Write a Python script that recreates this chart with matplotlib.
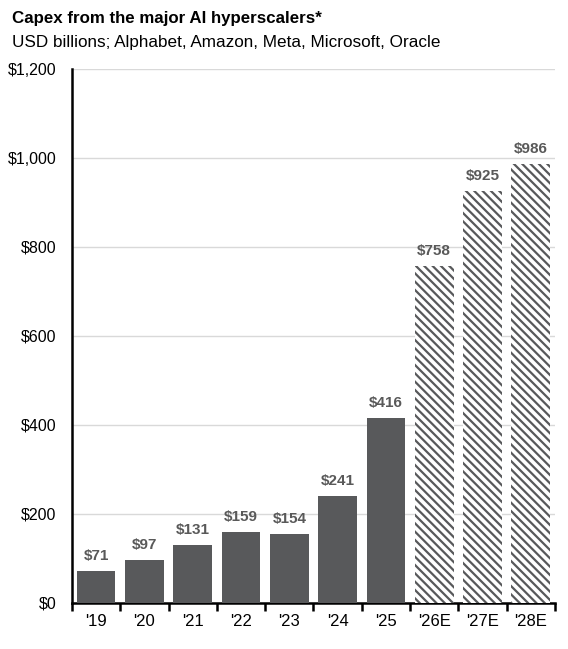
import matplotlib.pyplot as plt
import numpy as np

plt.rcParams['font.family'] = ['Liberation Sans', 'DejaVu Sans']
plt.rcParams['hatch.linewidth'] = 1.6

years = ["'19", "'20", "'21", "'22", "'23", "'24", "'25", "'26E", "'27E", "'28E"]
capex = [71, 97, 131, 159, 154, 241, 416, 758, 925, 986]
estimate = [False] * 7 + [True] * 3

bar_color = '#58595b'
label_color = '#595959'

fig = plt.figure(figsize=(5.68, 6.49), dpi=100)
ax = fig.add_axes([0.1268, 0.0709, 0.8502, 0.8228])

x = np.arange(len(years))
for i in range(len(years)):
    if estimate[i]:
        plt.rcParams['hatch.color'] = bar_color
        ax.bar(x[i], capex[i], width=0.8, color='white', hatch='\\\\\\\\',
               edgecolor=bar_color, linewidth=0, zorder=3)
    else:
        ax.bar(x[i], capex[i], width=0.8, color=bar_color, linewidth=0, zorder=3)
    ax.text(x[i], capex[i] + 18, '${0}'.format(capex[i]), ha='center', va='bottom',
            fontsize=11, fontweight='bold', color=label_color)

ax.set_xlim(-0.5, len(years) - 0.5)
ax.set_ylim(0, 1200)
ax.set_yticks(range(0, 1201, 200))
ax.set_yticklabels(['$0', '$200', '$400', '$600', '$800', '$1,000', '$1,200'])
ax.set_xticks(x)
ax.set_xticklabels(years)
ax.set_xticks(np.arange(-0.5, len(years)), minor=True)
ax.tick_params(axis='x', which='major', length=0, pad=8, labelsize=12)
ax.tick_params(axis='x', which='minor', length=6, width=1.8, direction='out')
ax.tick_params(axis='y', length=0, pad=11, labelsize=11.5)

ax.grid(axis='y', color='#d9d9d9', linewidth=1, zorder=0)
for s in ['top', 'right']:
    ax.spines[s].set_visible(False)
ax.spines['left'].set_linewidth(1.8)
ax.spines['bottom'].set_linewidth(1.8)

fig.text(0.021, 0.972, 'Capex from the major AI hyperscalers*', fontsize=12.2,
         fontweight='bold', va='center')
fig.text(0.021, 0.934, 'USD billions; Alphabet, Amazon, Meta, Microsoft, Oracle',
         fontsize=12.3, va='center')

fig.savefig('out.png', dpi=100)
